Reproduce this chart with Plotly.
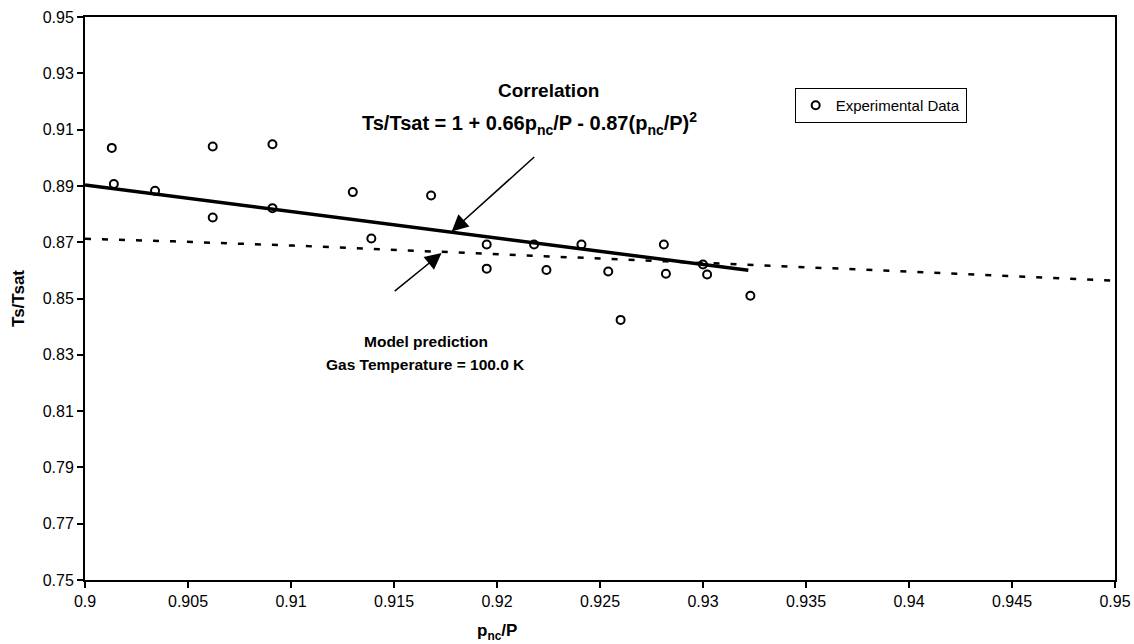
import plotly.graph_objects as go

# ---- data ----
exp_x = [0.9014, 0.9013, 0.9034, 0.9062, 0.9062, 0.9091, 0.9091, 0.9130, 0.9139,
         0.9168, 0.9195, 0.9195, 0.9218, 0.9224, 0.9241, 0.9254, 0.9260, 0.9281,
         0.9282, 0.9300, 0.9302, 0.9323]
exp_y = [0.8907, 0.9035, 0.8883, 0.8788, 0.9040, 0.8821, 0.9048, 0.8878, 0.8713,
         0.8866, 0.8692, 0.8606, 0.8692, 0.8601, 0.8692, 0.8596, 0.8424, 0.8692,
         0.8588, 0.8621, 0.8585, 0.8510]

corr_x = [0.9000, 0.9322]
corr_y = [0.8903, 0.8600]

model_x = [0.9000, 0.9043, 0.9101, 0.9172, 0.9282, 0.9399, 0.9500]
model_y = [0.8712, 0.8703, 0.8688, 0.8665, 0.8632, 0.8596, 0.8563]

x_ticks = [0.9, 0.905, 0.91, 0.915, 0.92, 0.925, 0.93, 0.935, 0.94, 0.945, 0.95]
x_tick_text = ["0.9", "0.905", "0.91", "0.915", "0.92", "0.925", "0.93", "0.935",
               "0.94", "0.945", "0.95"]
y_ticks = [0.75, 0.77, 0.79, 0.81, 0.83, 0.85, 0.87, 0.89, 0.91, 0.93, 0.95]
y_tick_text = ["0.75", "0.77", "0.79", "0.81", "0.83", "0.85", "0.87", "0.89",
               "0.91", "0.93", "0.95"]

FONT = "Liberation Sans, Arial, Helvetica, sans-serif"

fig = go.Figure()

fig.add_trace(go.Scatter(
    x=model_x, y=model_y, mode="lines", showlegend=False,
    line=dict(color="black", width=2.5, dash="6px,11px"), hoverinfo="skip"))

fig.add_trace(go.Scatter(
    x=corr_x, y=corr_y, mode="lines", showlegend=False,
    line=dict(color="black", width=3.5), hoverinfo="skip"))

fig.add_trace(go.Scatter(
    x=exp_x, y=exp_y, mode="markers", name="Experimental Data",
    marker=dict(symbol="circle-open", size=8, color="black", line=dict(width=2, color="black"))))

annotations = [
    dict(x=0.92248, y=0.9238, xref="x", yref="y", text="<b>Correlation</b>",
         showarrow=False, font=dict(size=19, family=FONT, color="black")),
    dict(x=0.92160, y=0.9120, xref="x", yref="y",
         text="<b>Ts/Tsat = 1 + 0.66p<sub>nc</sub>/P - 0.87(p<sub>nc</sub>/P)<sup>2</sup></b>",
         showarrow=False, font=dict(size=20, family=FONT, color="black")),
    dict(x=0.91655, y=0.8347, xref="x", yref="y", text="<b>Model prediction</b>",
         showarrow=False, font=dict(size=15.5, family=FONT, color="black")),
    dict(x=0.91655, y=0.8265, xref="x", yref="y", text="<b>Gas Temperature = 100.0 K</b>",
         showarrow=False, font=dict(size=15.5, family=FONT, color="black")),
    # arrows
    dict(x=0.91780, y=0.87384, ax=0.92188, ay=0.90073, xref="x", yref="y",
         axref="x", ayref="y", text="", showarrow=True, arrowhead=2,
         arrowsize=2.2, arrowwidth=1.5, arrowcolor="black"),
    dict(x=0.91731, y=0.86616, ax=0.91496, ay=0.85217, xref="x", yref="y",
         axref="x", ayref="y", text="", showarrow=True, arrowhead=2,
         arrowsize=2.2, arrowwidth=1.5, arrowcolor="black"),
    # x-axis title (sits under the 0.92 tick in the reference)
    dict(x=0.92, y=-0.07, xref="x", yref="paper", yanchor="top",
         text="<b>p<sub>nc</sub>/P</b>", showarrow=False,
         font=dict(size=17, family=FONT, color="black")),
]

fig.update_layout(
    width=1134, height=644,
    margin=dict(l=85, r=19, t=17, b=64),
    paper_bgcolor="white", plot_bgcolor="white",
    font=dict(family=FONT, size=16, color="black"),
    annotations=annotations,
    showlegend=True,
    legend=dict(x=0.689, y=0.874, xanchor="left", yanchor="top",
                bgcolor="white", bordercolor="black", borderwidth=1,
                font=dict(size=15, family=FONT, color="black"),
                itemwidth=30, tracegroupgap=0),
)

fig.update_xaxes(
    range=[0.9, 0.95], tickvals=x_ticks, ticktext=x_tick_text,
    showgrid=False, zeroline=False, showline=True, linecolor="black", linewidth=2,
    mirror=True, ticks="outside", ticklen=6, tickwidth=1.5, tickcolor="black",
    tickfont=dict(size=16), automargin=False,
)
fig.update_yaxes(
    range=[0.75, 0.95], tickvals=y_ticks, ticktext=y_tick_text,
    showgrid=False, zeroline=False, showline=True, linecolor="black", linewidth=2,
    mirror=True, ticks="outside", ticklen=6, tickwidth=1.5, tickcolor="black",
    tickfont=dict(size=16), automargin=False,
    title=dict(text="<b>Ts/Tsat</b>", font=dict(size=17), standoff=14),
)

fig.write_html("out.html", config={"displayModeBar": False},
               post_script="document.body.style.margin='0';document.body.style.padding='0';")
